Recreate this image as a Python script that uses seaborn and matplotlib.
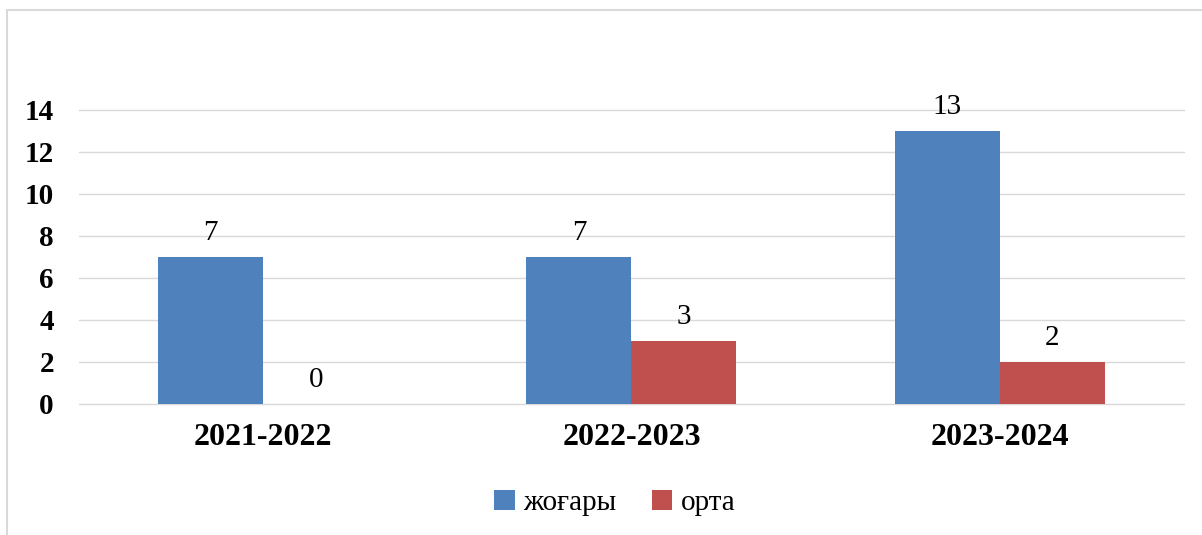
import pandas as pd
import matplotlib
matplotlib.use('Agg')
import matplotlib.pyplot as plt
import seaborn as sns
from matplotlib.patches import Rectangle

# Деректер
years = ["2021-2022", "2022-2023", "2023-2024"]
zhogary = [7, 7, 13]
orta = [0, 3, 2]
series_names = ["жоғары", "орта"]
colors = ["#4F81BD", "#C0504D"]

sns.set_theme(style="white")
plt.rcParams['font.family'] = ['Liberation Serif', 'DejaVu Serif']
plt.rcParams['text.color'] = 'black'
plt.rcParams['xtick.color'] = 'black'
plt.rcParams['ytick.color'] = 'black'

df = pd.DataFrame({
    "year": years * 2,
    "value": zhogary + orta,
    "level": [series_names[0]] * len(years) + [series_names[1]] * len(years),
})

fig = plt.figure(figsize=(12.02, 5.35), dpi=100)
ax = fig.add_axes([0.0657, 0.2449, 0.9193, 0.5495])

sns.barplot(data=df, x="year", y="value", hue="level", palette=colors,
            width=0.57, saturation=1, ax=ax, order=years,
            hue_order=series_names, linewidth=0)

for c in ax.containers:
    ax.bar_label(c, labels=[f"{int(v)}" for v in c.datavalues],
                 padding=8, fontsize=21, color="black", clip_on=False)

ax.set_ylim(0, 14)
ax.set_yticks(range(0, 15, 2))
ax.yaxis.grid(True, color="#D9D9D9", linewidth=1.0)
ax.set_axisbelow(True)
for line in ax.get_ygridlines():
    line.set_clip_on(False)
for s in ax.spines.values():
    s.set_visible(False)
ax.set_xlabel("")
ax.set_ylabel("")
ax.tick_params(axis="y", length=0, pad=18, labelsize=21, labelcolor="black")
ax.tick_params(axis="x", length=0, pad=14, labelsize=23, labelcolor="black")
for t in ax.get_yticklabels() + ax.get_xticklabels():
    t.set_fontweight("bold")

handles, labels = ax.get_legend_handles_labels()
leg = ax.legend(handles, labels, loc="center", bbox_to_anchor=(0.485, -0.337),
                ncol=2, frameon=False, fontsize=21, handlelength=0.7,
                handleheight=0.7, handletextpad=0.3, columnspacing=1.2)
for t in leg.get_texts():
    t.set_color("black")

# рамка
fig.patches.append(Rectangle((7 / 1202, -0.02), 1.0, 0.981 + 0.02,
                             transform=fig.transFigure, fill=False,
                             edgecolor="#D9D9D9", linewidth=1.5))

fig.savefig("out.png", dpi=100)
